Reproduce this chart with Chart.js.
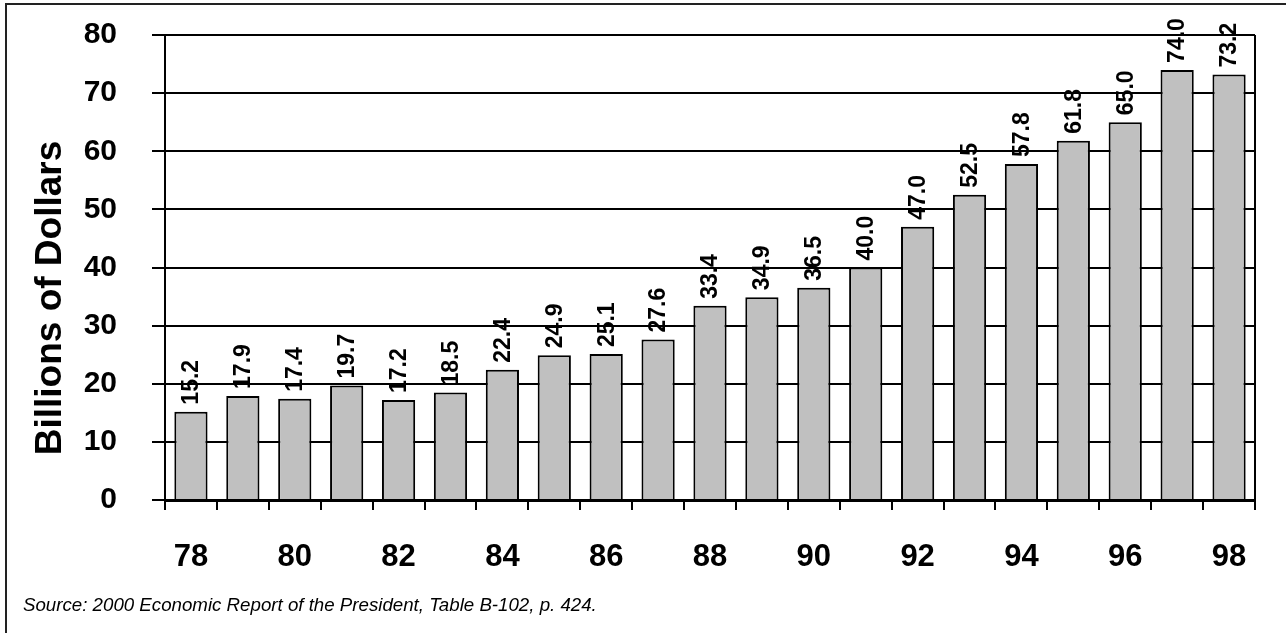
<!DOCTYPE html>
<html>
<head>
<meta charset="utf-8">
<script src="https://cdn.jsdelivr.net/npm/chart.js@4/dist/chart.umd.min.js"></script>
<style>
  body { margin: 0; background: #fff; }
  #wrap { position: relative; width: 1286px; height: 633px; }
  #source {
    position: absolute; left: 23px; top: 594px;
    font: italic 18.7px Arial, "Liberation Sans", sans-serif; color: #000;
  }
</style>
</head>
<body>
<div id="wrap">
  <canvas id="spendingChart" width="1286" height="633"></canvas>
  <div id="source">Source: 2000 Economic Report of the President, Table B-102, p. 424.</div>
</div>
<script>
// years shown on the x axis (every other one gets a label)
const years = ['78', '79', '80', '81', '82', '83', '84', '85', '86', '87', '88',
               '89', '90', '91', '92', '93', '94', '95', '96', '97', '98'];
// billions of dollars
const values = [15.2, 17.9, 17.4, 19.7, 17.2, 18.5, 22.4, 24.9, 25.1, 27.6, 33.4,
                34.9, 36.5, 40.0, 47.0, 52.5, 57.8, 61.8, 65.0, 74.0, 73.2];
const yTicks = [0, 10, 20, 30, 40, 50, 60, 70, 80];
const yTitle = 'Billions of Dollars';

const fontFamily = 'Arial, "Liberation Sans", sans-serif';
Chart.defaults.font.family = fontFamily;
Chart.defaults.color = '#000';

// frame, axis title, right border of the plot and the rotated value labels
const decorations = {
    id: 'decorations',
    beforeDraw(chart) {
        const ctx = chart.ctx;
        ctx.save();
        ctx.strokeStyle = '#222';
        ctx.lineWidth = 2;
        ctx.strokeRect(6, 4, 3000, 3000);

        // y title sits a bit below the middle of the plot in the original
        ctx.fillStyle = '#000';
        ctx.font = 'bold 37px ' + fontFamily;
        ctx.textAlign = 'center';
        ctx.textBaseline = 'middle';
        ctx.translate(51, 298);
        ctx.rotate(-Math.PI / 2);
        ctx.fillText(yTitle, 0, 0);
        ctx.restore();
    },
    afterDatasetsDraw(chart) {
        const ctx = chart.ctx;
        const area = chart.chartArea;
        ctx.save();
        ctx.strokeStyle = '#000';
        ctx.lineWidth = 2;
        ctx.beginPath();
        ctx.moveTo(area.right, area.top);
        ctx.lineTo(area.right, area.bottom);
        ctx.stroke();

        ctx.fillStyle = '#000';
        ctx.font = 'bold 23px ' + fontFamily;
        ctx.textAlign = 'left';
        ctx.textBaseline = 'middle';
        chart.getDatasetMeta(0).data.forEach((bar, i) => {
            ctx.save();
            ctx.translate(bar.x + 1, bar.y - 7);
            ctx.rotate(-Math.PI / 2);
            ctx.fillText(values[i].toFixed(1), 0, 0);
            ctx.restore();
        });
        ctx.restore();
    }
};

new Chart(document.getElementById('spendingChart'), {
    type: 'bar',
    data: {
        labels: years,
        datasets: [{
            data: values,
            backgroundColor: '#c0c0c0',
            borderColor: '#000',
            borderWidth: 2,
            borderSkipped: 'bottom',
            barPercentage: 0.64,
            categoryPercentage: 1
        }]
    },
    options: {
        responsive: false,
        animation: false,
        layout: { padding: { left: 0, top: 35, right: 31, bottom: 0 } },
        plugins: {
            legend: { display: false },
            tooltip: { enabled: false }
        },
        scales: {
            x: {
                afterFit(scale) { scale.height = 133; },
                grid: {
                    offset: true,
                    drawOnChartArea: false,
                    color: '#000',
                    lineWidth: 2,
                    tickLength: 10
                },
                border: { display: true, color: '#000', width: 3 },
                ticks: {
                    autoSkip: false,
                    maxRotation: 0,
                    padding: 29,
                    font: { size: 31, weight: 'bold' },
                    callback: (v, i) => (i % 2 === 0 ? years[i] : '')
                }
            },
            y: {
                min: 0,
                max: 80,
                afterFit(scale) {
                    scale.width = 165;
                    scale.paddingTop = 0;
                    scale.paddingBottom = 0;
                },
                afterBuildTicks(scale) { scale.ticks = yTicks.map(v => ({ value: v })); },
                grid: { color: '#000', lineWidth: 2, tickLength: 13 },
                border: { display: true, color: '#000', width: 2 },
                ticks: {
                    padding: 35,
                    font: { size: 30, weight: 'bold' }
                }
            }
        }
    },
    plugins: [decorations]
});
</script>
</body>
</html>
